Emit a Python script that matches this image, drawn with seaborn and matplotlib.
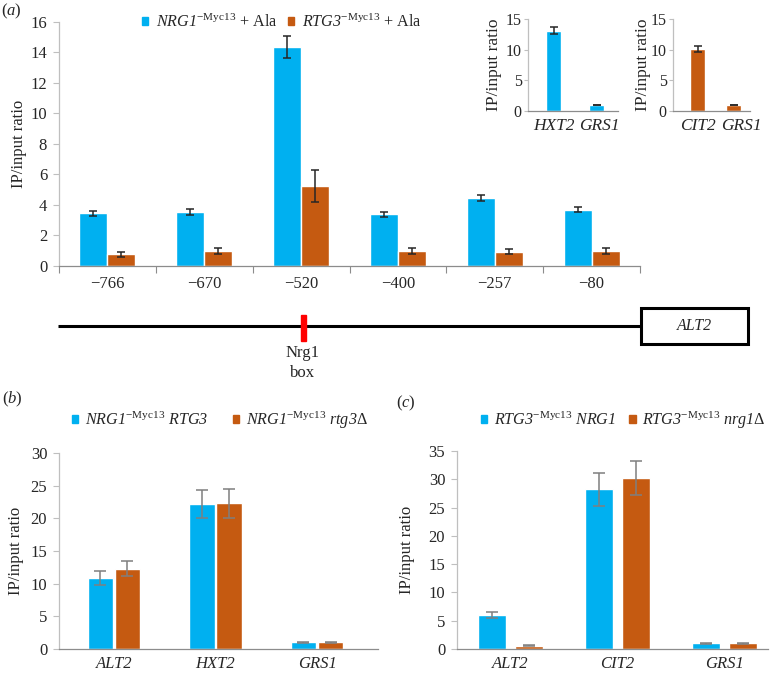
import numpy as np
import pandas as pd
import matplotlib
matplotlib.use('Agg')
import matplotlib.pyplot as plt
import seaborn as sns
from matplotlib.patches import Rectangle, Patch
from matplotlib.transforms import ScaledTranslation

sns.set_theme(style='white')
plt.rcParams['font.family'] = ['Liberation Serif', 'DejaVu Serif']
plt.rcParams['mathtext.fontset'] = 'custom'
plt.rcParams['mathtext.rm'] = 'Liberation Serif'
plt.rcParams['mathtext.it'] = 'Liberation Serif:italic'
plt.rcParams['mathtext.sf'] = 'Liberation Serif:italic'
plt.rcParams['mathtext.bf'] = 'Liberation Serif:bold'

BLUE = '#00B0F0'
ORANGE = '#C55A11'
GRAY_Y = '#BFBFBF'
GRAY_X = '#8C8C8C'

# ---------------- data ----------------
# panel (a): promoter scan
a_positions = ['\u2212766', '\u2212670', '\u2212520', '\u2212400', '\u2212257', '\u221280']
a_nrg1 = [3.46, 3.54, 14.36, 3.39, 4.45, 3.7]
a_nrg1_err = [0.16, 0.19, 0.7, 0.17, 0.2, 0.16]
a_rtg3 = [0.77, 0.96, 5.25, 0.96, 0.95, 1.0]
a_rtg3_err = [0.16, 0.2, 1.06, 0.2, 0.16, 0.2]
a_labels = [r'$\mathsf{NRG1}^{\mathrm{-Myc13}}$ + Ala',
            r'$\mathsf{RTG3}^{\mathrm{-Myc13}}$ + Ala']

# insets
i1_genes = ['HXT2', 'GRS1']
i1_vals = [13.1, 1.0]
i1_err = [0.6, 0.05]
i2_genes = ['CIT2', 'GRS1']
i2_vals = [10.1, 1.0]
i2_err = [0.5, 0.05]

# panel (b)
b_genes = ['ALT2', 'HXT2', 'GRS1']
b_rtg3 = [10.8, 22.2, 1.0]
b_rtg3_err = [1.07, 2.15, 0.08]
b_rtg3d = [12.3, 22.3, 1.0]
b_rtg3d_err = [1.2, 2.2, 0.08]
b_labels = [r'$\mathsf{NRG1}^{\mathrm{-Myc13}}\ \mathsf{RTG3}$',
            r'$\mathsf{NRG1}^{\mathrm{-Myc13}}\ \mathsf{rtg3}\Delta$']

# panel (c)
c_genes = ['ALT2', 'CIT2', 'GRS1']
c_nrg1 = [6.0, 28.2, 1.0]
c_nrg1_err = [0.6, 2.9, 0.1]
c_nrg1d = [0.6, 30.2, 1.0]
c_nrg1d_err = [0.05, 3.0, 0.1]
c_labels = [r'$\mathsf{RTG3}^{\mathrm{-Myc13}}\ \mathsf{NRG1}$',
            r'$\mathsf{RTG3}^{\mathrm{-Myc13}}\ \mathsf{nrg1}\Delta$']

FS = 12
LFS = 11.6

fig = plt.figure(figsize=(7.77, 6.75), dpi=100)
W, H = 777.0, 675.0


def px_axes(l, r, t, b):
    return fig.add_axes([l / W, 1 - b / H, (r - l) / W, (b - t) / H])


def style(ax, ylim, yticks, italic, fs=FS, lfs=FS, tlen=4, pad=4.5, xpad=5):
    ax.set_ylim(*ylim)
    ax.set_yticks(yticks)
    ax.set_xlabel('')
    ax.set_ylabel('IP/input ratio', fontsize=lfs)
    for s in ['top', 'right']:
        ax.spines[s].set_visible(False)
    ax.spines['left'].set_color(GRAY_Y)
    ax.spines['bottom'].set_color(GRAY_X)
    ax.spines['left'].set_linewidth(0.9)
    ax.spines['bottom'].set_linewidth(0.9)
    ax.tick_params(axis='y', left=True, length=tlen, width=0.8, color=GRAY_Y,
                   labelsize=fs, pad=pad)
    ax.tick_params(axis='x', which='major', bottom=False, length=0,
                   labelsize=lfs, pad=xpad)
    ax.set_facecolor('none')
    if italic:
        for t in ax.get_xticklabels():
            t.set_fontstyle('italic')


def grouped(ax, cats, v1, e1, v2, e2, width, gap, ecolor, cap, ylim, yticks,
            italic, xpad=5):
    df = pd.DataFrame({'cat': list(cats) * 2,
                       'val': list(v1) + list(v2),
                       'grp': ['g1'] * len(cats) + ['g2'] * len(cats)})
    sns.barplot(data=df, x='cat', y='val', hue='grp', hue_order=['g1', 'g2'],
                palette=[BLUE, ORANGE], width=width, gap=gap, ax=ax,
                errorbar=None, legend=False, saturation=1)
    for cont, err in zip(ax.containers, [e1, e2]):
        xs = [p.get_x() + p.get_width() / 2 for p in cont.patches]
        ys = [p.get_height() for p in cont.patches]
        ax.errorbar(xs, ys, yerr=err, fmt='none', ecolor=ecolor,
                    elinewidth=1.1, capsize=cap, capthick=1.1, zorder=5)
    style(ax, ylim, yticks, italic, xpad=xpad)


def legend(labels, x, y, tpad, cspace):
    fig.legend([Patch(color=BLUE), Patch(color=ORANGE)], labels,
               loc='center left', bbox_to_anchor=(x / W, 1 - y / H),
               ncol=2, frameon=False, fontsize=LFS, handlelength=0.4,
               handleheight=0.4, handletextpad=tpad, columnspacing=cspace,
               borderpad=0, borderaxespad=0)


# ---------------- panel (a) ----------------
axA = px_axes(59, 640, 22, 266)
grouped(axA, a_positions, a_nrg1, a_nrg1_err, a_rtg3, a_rtg3_err,
        0.58, 0, '#262626', 3, (0, 16), np.arange(0, 17, 2), False, xpad=7.5)
axA.set_xlim(-0.5, 5.5)
axA.set_xticks(np.arange(-0.5, 6.0, 1.0), minor=True)
axA.tick_params(axis='x', which='minor', bottom=True, length=5, width=0.8,
                color=GRAY_X)
axA.yaxis.set_label_coords(-0.055, 0.5)
legend(a_labels, 142, 22, 0.5, 0.6)


# insets
def inset(l, r, genes, vals, err, color, xlim, width):
    ax = px_axes(l, r, 19, 111)
    df = pd.DataFrame({'gene': genes, 'val': vals})
    sns.barplot(data=df, x='gene', y='val', color=color, width=width, ax=ax,
                errorbar=None, saturation=1)
    p = ax.containers[0].patches
    ax.errorbar([q.get_x() + q.get_width() / 2 for q in p],
                [q.get_height() for q in p], yerr=err, fmt='none',
                ecolor='#262626', elinewidth=1.1, capsize=3, capthick=1.1)
    style(ax, (0, 15), [0, 5, 10, 15], True, fs=11.5, lfs=12.5, tlen=3, pad=1.5)
    ax.set_xlim(*xlim)
    return ax


ins1 = inset(528, 618, i1_genes, i1_vals, i1_err, BLUE, (-0.6, 1.5), 0.35)
ins2 = inset(673, 750, i2_genes, i2_vals, i2_err, ORANGE, (-0.69, 1.46), 0.42)
ins1.yaxis.set_label_coords(-26 / 90, 0.5)
ins2.yaxis.set_label_coords(-22 / 77, 0.5)
lbl = ins2.get_xticklabels()[1]
lbl.set_transform(lbl.get_transform() + ScaledTranslation(6 / 72, 0, fig.dpi_scale_trans))
lbl = ins1.get_xticklabels()[1]
lbl.set_transform(lbl.get_transform() + ScaledTranslation(2 / 72, 0, fig.dpi_scale_trans))

# ---------------- gene diagram ----------------
axD = fig.add_axes([0, 0, 1, 1], zorder=-5)
axD.set_xlim(0, W)
axD.set_ylim(H, 0)
axD.axis('off')
axD.plot([58, 641], [326, 326], color='black', lw=2.2, solid_capstyle='butt')
axD.add_patch(Rectangle((300.5, 315), 5.5, 26, color='#FF0000', zorder=3))
axD.add_patch(Rectangle((641, 308), 107, 36, fill=False, lw=2.2,
                        edgecolor='black'))
axD.text(694.5, 326, 'ALT2', fontstyle='italic', fontsize=FS - 0.5,
         ha='center', va='center')
axD.text(303, 353, 'Nrg1', fontsize=FS, ha='center', va='center')
axD.text(303, 373, 'box', fontsize=FS, ha='center', va='center')

# ---------------- panel (b) ----------------
axB = px_axes(59, 378, 453, 649)
grouped(axB, b_genes, b_rtg3, b_rtg3_err, b_rtg3d, b_rtg3d_err,
        0.536, 0.067, '#7F7F7F', 4, (0, 30), np.arange(0, 31, 5), True)
axB.set_xlim(-0.54, 2.6)
axB.yaxis.set_label_coords(-0.11, 0.5)
legend(b_labels, 72, 420, 0.42, 1.5)

# ---------------- panel (c) ----------------
axC = px_axes(457, 768, 451, 649)
grouped(axC, c_genes, c_nrg1, c_nrg1_err, c_nrg1d, c_nrg1d_err,
        0.692, 0.243, '#7F7F7F', 4, (0, 35), np.arange(0, 36, 5), True)
axC.set_xlim(-0.5, 2.41)
axC.yaxis.set_label_coords(-0.135, 0.5)
legend(c_labels, 481, 420, 0.42, 0.8)

# panel labels
fig.text(1 / W, 1 - 11 / H, r'$(\mathsf{a})$', fontsize=FS, va='center')
fig.text(2 / W, 1 - 399 / H, r'$(\mathsf{b})$', fontsize=FS, va='center')
fig.text(396 / W, 1 - 403 / H, r'$(\mathsf{c})$', fontsize=FS, va='center')

fig.savefig('out.png', dpi=100)
